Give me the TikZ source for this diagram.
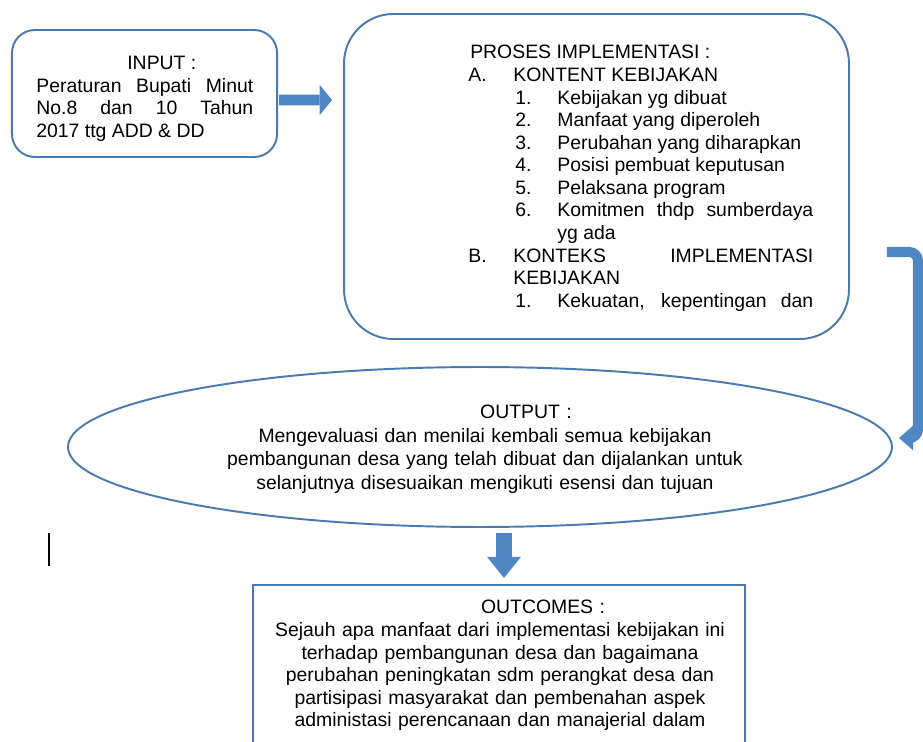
\documentclass[tikz,border=0pt]{standalone}
\usepackage{fontspec}
\setmainfont{Liberation Sans}
\usetikzlibrary{calc,shapes.geometric,arrows.meta}
\definecolor{garis}{HTML}{4A7AB0}
\definecolor{panah}{HTML}{4F86C6}
\newcommand{\butir}[2]{\par\noindent\hangindent=25.5pt\hangafter=1\makebox[25.5pt][l]{#1}#2}
\newcommand{\subbutir}[2]{\par\noindent\hangindent=50.5pt\hangafter=1\hspace*{26.6pt}\makebox[23.9pt][l]{#1}#2}

\tikzset{
  kotak/.style={draw=garis, line width=1.1pt, rounded corners=#1, inner sep=0pt},
  elips/.style={draw=garis, line width=1.1pt, ellipse, inner sep=0pt},
  teks/.style={inner sep=0pt, font=\fontsize{11}{12.8}\selectfont},
  blok/.style={draw=panah, line width=#1},
}

\begin{document}
\begin{tikzpicture}[x=0.567pt, y=-0.567pt]
	\clip (0,0) rectangle (923,742);
	\node[kotak=13pt, minimum width=150.3pt, minimum height=72pt] (inbox) at (144.5,93.5) {};
	\node[kotak=28pt, minimum width=286.3pt, minimum height=184.3pt] (prbox) at (596.5,176.5) {};
	\node[elips, minimum width=467.2pt, minimum height=90.7pt] (outp) at (480,447) {};
	\node[kotak=0pt, minimum width=279pt, minimum height=147.4pt, anchor=north] (outc) at (499,584) {};

	\node[teks, anchor=north west, text width=123pt, align=justify] (intxt) at (36,56)
		{\noindent\hspace*{51.6pt}INPUT :\par\noindent Peraturan Bupati Minut\linebreak No.8 dan 10 Tahun\linebreak 2017 ttg ADD \& DD};
	\node[teks, anchor=north west, text width=195.6pt, align=justify] (prtxt) at (468,45) {%
		\noindent\hspace*{1.1pt}PROSES IMPLEMENTASI :
		\butir{A.}{KONTENT KEBIJAKAN}
		\subbutir{1.}{Kebijakan yg dibuat}
		\subbutir{2.}{Manfaat yang diperoleh}
		\subbutir{3.}{Perubahan yang diharapkan}
		\subbutir{4.}{Posisi pembuat keputusan}
		\subbutir{5.}{Pelaksana program}
		\subbutir{6.}{Komitmen thdp sumberdaya\linebreak yg ada}
		\butir{B.}{KONTEKS IMPLEMENTASI\linebreak KEBIJAKAN}
		\subbutir{1.}{Kekuatan, kepentingan dan\parfillskip=0pt\par}};
	\node[teks, anchor=north, text width=320pt, align=center, font=\fontsize{11}{13.3}\selectfont] (outtxt) at (485,405)
		{\hspace*{46.5pt}OUTPUT :\\ Mengevaluasi dan menilai kembali semua kebijakan\\ pembangunan desa yang telah dibuat dan dijalankan untuk\\ selanjutnya disesuaikan mengikuti esensi dan tujuan};
	\node[teks, anchor=north, text width=272pt, align=center] (outctxt) at (500,600)
		{\hspace*{48.8pt}OUTCOMES :\\ Sejauh apa manfaat dari implementasi kebijakan ini\\ terhadap pembangunan desa dan bagaimana\\ perubahan peningkatan sdm perangkat desa dan\\ partisipasi masyarakat dan pembenahan aspek\\ administasi perencanaan dan manajerial dalam};

	\coordinate (bawal) at ($(prbox.east)+(37,75.5)$);
	\coordinate (bujung) at ($(outp.east)+(6,-9)$);
	\draw[blok=6.2pt, -{Triangle[length=7pt,width=17pt,line width=0pt]}] ($(inbox.east)+(1,6.5)$) -- ($(prbox.west)+(-11,-76.5)$);
	\draw[blok=5.7pt, rounded corners=5pt, -{Triangle[length=8pt,width=14pt,line width=0pt]}] (bawal) -- (918,252) -- (918,438) -- (bujung);
	\draw[blok=9.6pt, -{Triangle[length=12pt,width=19.3pt,line width=0pt]}] ($(outc.north)+(5,-51)$) -- ($(outc.north)+(5,-6)$);
	\draw[line width=1.6pt] (49,533) -- (49,566);
\end{tikzpicture}
\end{document}
